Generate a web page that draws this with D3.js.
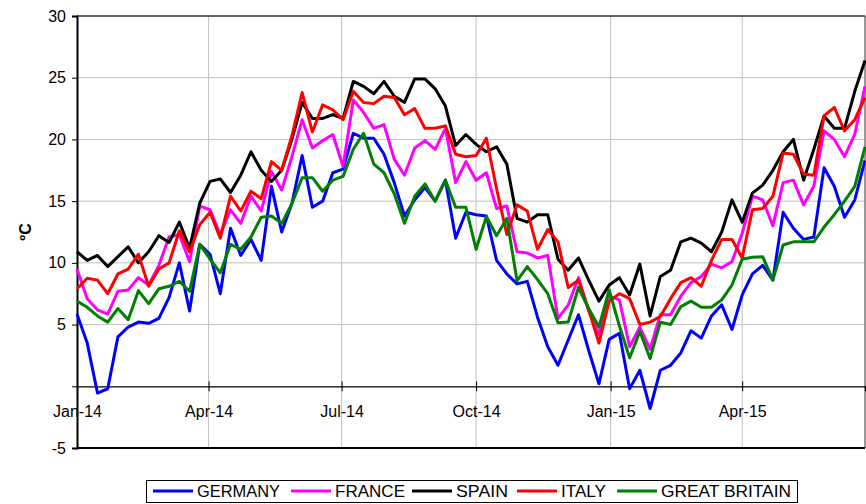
<!DOCTYPE html>
<html>
<head>
<meta charset="utf-8">
<script src="https://cdn.jsdelivr.net/npm/d3@7"></script>
<style>
  body { margin: 0; background: #fff; }
  svg text { font-family: "Liberation Sans", Arial, sans-serif; fill: #000; }
</style>
</head>
<body>
<div id="chart"></div>
<script>
// weekly temperatures, first week of Jan 2014 onwards
var startDate = new Date(2014, 0, 1);

var germany = [5.85, 3.5, -0.55, -0.2, 4.0, 4.8, 5.2, 5.1, 5.5, 7.2,
  10.0, 6.1, 11.5, 10.7, 7.5, 12.8, 10.6, 11.9, 10.2, 16.2,
  12.5, 14.8, 18.7, 14.5, 15.0, 17.3, 17.6, 20.5, 20.1, 20.1,
  18.8, 16.5, 13.8, 15.1, 16.1, 15.0, 16.7, 12.0, 14.1, 13.9,
  13.8, 10.2, 9.1, 8.3, 8.5, 5.6, 3.2, 1.7, 3.75, 5.8,
  2.9, 0.2, 3.8, 4.3, -0.2, 1.3, -1.8, 1.3, 1.7, 2.7,
  4.5, 3.9, 5.7, 6.6, 4.6, 7.4, 9.1, 9.8, 8.6, 14.1,
  12.8, 11.9, 12.1, 17.7, 16.2, 13.7, 15.1, 18.3];

var france = [9.5, 7.1, 6.2, 5.85, 7.7, 7.8, 8.8, 8.2, 9.8, 12.1,
  12.3, 10.1, 14.6, 14.3, 12.3, 14.3, 13.2, 15.4, 14.2, 17.4,
  15.9, 18.6, 21.6, 19.3, 19.9, 20.4, 17.8, 23.2, 22.2, 20.9,
  21.2, 18.4, 17.1, 19.3, 19.9, 19.2, 20.9, 16.5, 18.2, 16.7,
  17.3, 14.4, 14.6, 10.9, 10.8, 10.4, 10.6, 5.5, 6.6, 8.8,
  6.1, 4.2, 7.3, 7.0, 3.2, 4.8, 3.0, 5.8, 5.8, 7.3,
  8.4, 8.9, 9.9, 9.6, 10.1, 12.4, 15.4, 15.1, 13.0, 16.5,
  16.7, 14.7, 16.2, 20.7, 20.0, 18.6, 20.4, 24.3];

var spain = [10.9, 10.2, 10.6, 9.7, 10.5, 11.3, 10.0, 10.9, 12.2, 11.65,
  13.3, 11.2, 14.85, 16.6, 16.8, 15.7, 17.1, 19.0, 17.5, 16.6,
  17.5, 20.0, 23.0, 21.7, 21.7, 22.0, 21.7, 24.7, 24.3, 23.7,
  24.7, 23.5, 23.0, 24.9, 24.9, 24.1, 22.7, 19.5, 20.4, 19.6,
  19.0, 19.4, 18.0, 13.6, 13.3, 13.9, 13.9, 10.3, 9.4, 10.4,
  8.6, 6.9, 8.2, 8.8, 7.4, 9.9, 5.7, 8.9, 9.4, 11.7,
  12.0, 11.6, 10.9, 12.5, 15.1, 13.3, 15.65, 16.3, 17.5, 19.0,
  20.0, 16.7, 19.2, 21.9, 20.9, 20.9, 23.9, 26.4];

var italy = [7.9, 8.75, 8.6, 7.5, 9.1, 9.5, 10.7, 8.1, 9.5, 10.0,
  12.6, 10.9, 13.1, 14.1, 12.0, 15.4, 14.2, 15.8, 15.2, 18.2,
  17.5, 20.3, 23.8, 20.6, 22.8, 22.4, 21.6, 23.9, 23.0, 22.9,
  23.5, 23.4, 22.0, 22.5, 20.9, 20.9, 21.1, 18.8, 18.6, 18.7,
  20.1, 16.0, 12.3, 14.7, 14.2, 11.1, 12.7, 11.7, 8.0, 8.6,
  6.2, 3.5, 6.9, 7.5, 7.1, 5.0, 5.2, 5.65, 7.1, 8.4,
  8.8, 8.1, 10.2, 11.9, 11.9, 10.4, 14.3, 14.4, 15.4, 18.9,
  18.8, 17.2, 17.1, 21.9, 22.6, 20.7, 21.6, 23.4];

var greatBritain = [6.9, 6.4, 5.7, 5.2, 6.3, 5.4, 7.75, 6.7, 7.9, 8.1,
  8.5, 7.7, 11.5, 10.3, 9.2, 11.5, 11.1, 12.1, 13.7, 13.8,
  13.2, 14.8, 16.9, 16.9, 15.8, 16.7, 17.0, 19.2, 20.5, 18.0,
  17.3, 15.6, 13.2, 15.4, 16.4, 15.0, 16.7, 14.5, 14.5, 11.1,
  13.75, 12.2, 13.6, 8.55, 9.7, 8.65, 7.5, 5.15, 5.2, 8.0,
  6.3, 4.8, 7.8, 4.9, 2.3, 4.45, 2.25, 5.2, 5.0, 6.45,
  6.9, 6.4, 6.4, 7.0, 8.2, 10.3, 10.45, 10.5, 8.6, 11.45,
  11.7, 11.7, 11.7, 12.9, 13.9, 15.0, 16.2, 19.4];

var seriesNames = ["GERMANY", "FRANCE", "SPAIN", "ITALY", "GREAT BRITAIN"];
var seriesColors = ["#0000ff", "#ff00ff", "#000000", "#ff0000", "#008000"];
var seriesValues = [germany, france, spain, italy, greatBritain];

var xTickDates = [new Date(2014, 0, 1), new Date(2014, 3, 1), new Date(2014, 6, 1),
  new Date(2014, 9, 1), new Date(2015, 0, 1), new Date(2015, 3, 1)];
var yTicks = [-5, 0, 5, 10, 15, 20, 25, 30];

var width = 866, height = 504;
var plotLeft = 77, plotRight = 865, plotTop = 16, plotBottom = 448;

var dates = germany.map(function(d, i) {
  return d3.timeDay.offset(startDate, i * 7);
});

var x = d3.scaleTime()
  .domain([startDate, dates[dates.length - 1]])
  .range([plotLeft, plotRight]);
var y = d3.scaleLinear().domain([-5, 30]).range([plotBottom, plotTop]);

var svg = d3.select("#chart").append("svg")
  .attr("width", width)
  .attr("height", height);

// gridlines
svg.append("g").selectAll("line")
  .data([5, 10, 15, 20, 25])
  .enter().append("line")
  .attr("x1", plotLeft).attr("x2", plotRight)
  .attr("y1", function(d) { return y(d); })
  .attr("y2", function(d) { return y(d); })
  .attr("stroke", "#c0c0c0").attr("stroke-width", 1);

svg.append("g").selectAll("line")
  .data(xTickDates.slice(1))
  .enter().append("line")
  .attr("x1", function(d) { return x(d); })
  .attr("x2", function(d) { return x(d); })
  .attr("y1", plotTop).attr("y2", plotBottom)
  .attr("stroke", "#c0c0c0").attr("stroke-width", 1);

// frame
svg.append("line").attr("x1", plotLeft).attr("x2", plotRight).attr("y1", plotTop).attr("y2", plotTop)
  .attr("stroke", "#333").attr("stroke-width", 1.5);
svg.append("line").attr("x1", plotRight).attr("x2", plotRight).attr("y1", plotTop).attr("y2", plotBottom)
  .attr("stroke", "#333").attr("stroke-width", 1);
svg.append("line").attr("x1", plotLeft).attr("x2", plotRight).attr("y1", plotBottom).attr("y2", plotBottom)
  .attr("stroke", "#000").attr("stroke-width", 2);

// y axis
var yAxis = svg.append("g")
  .attr("transform", "translate(" + plotLeft + ",0)")
  .call(d3.axisLeft(y).tickValues(yTicks).tickSize(5).tickPadding(6)
    .tickFormat(function(d) { return d === 0 ? "" : d; }));
yAxis.select(".domain").attr("stroke", "#000").attr("stroke-width", 2);
yAxis.selectAll(".tick line").attr("stroke", "#000");
yAxis.selectAll("text").style("font-size", "16px").attr("fill", "#000");

// x axis on the zero line
var xAxis = svg.append("g")
  .attr("transform", "translate(0," + y(0) + ")")
  .call(d3.axisBottom(x).tickValues(xTickDates).tickSize(5).tickPadding(14)
    .tickFormat(d3.timeFormat("%b-%y")));
xAxis.select(".domain").attr("stroke", "#000").attr("stroke-width", 1.2);
xAxis.selectAll(".tick line").attr("stroke", "#000").attr("y1", -5);
xAxis.selectAll("text").style("font-size", "16px").attr("fill", "#000");

svg.append("text")
  .attr("transform", "translate(31,232) rotate(-90)")
  .attr("text-anchor", "middle")
  .style("font-size", "16px")
  .style("font-weight", "bold")
  .text("ºC");

// series lines
var line = d3.line()
  .x(function(d, i) { return x(dates[i]); })
  .y(function(d) { return y(d); });

svg.append("g").selectAll("path")
  .data(seriesValues)
  .enter().append("path")
  .attr("d", line)
  .attr("fill", "none")
  .attr("stroke", function(d, i) { return seriesColors[i]; })
  .attr("stroke-width", 3)
  .attr("stroke-linejoin", "round");

// legend
var legendX = [153, 291, 412, 517, 617];
var legendW = [83, 70, 52, 45, 130];
svg.append("rect")
  .attr("x", 146.5).attr("y", 480.5).attr("width", 651).attr("height", 22)
  .attr("fill", "#fff").attr("stroke", "#000").attr("stroke-width", 1);

var item = svg.append("g").selectAll("g")
  .data(seriesNames)
  .enter().append("g")
  .attr("transform", function(d, i) { return "translate(" + legendX[i] + ",491)"; });
item.append("line")
  .attr("x1", 0).attr("x2", 40)
  .attr("stroke", function(d, i) { return seriesColors[i]; })
  .attr("stroke-width", 3);
item.append("text")
  .attr("x", 44).attr("y", 6)
  .style("font-size", "17px")
  .attr("textLength", function(d, i) { return legendW[i]; })
  .attr("lengthAdjust", "spacingAndGlyphs")
  .text(function(d) { return d; });
</script>
</body>
</html>
